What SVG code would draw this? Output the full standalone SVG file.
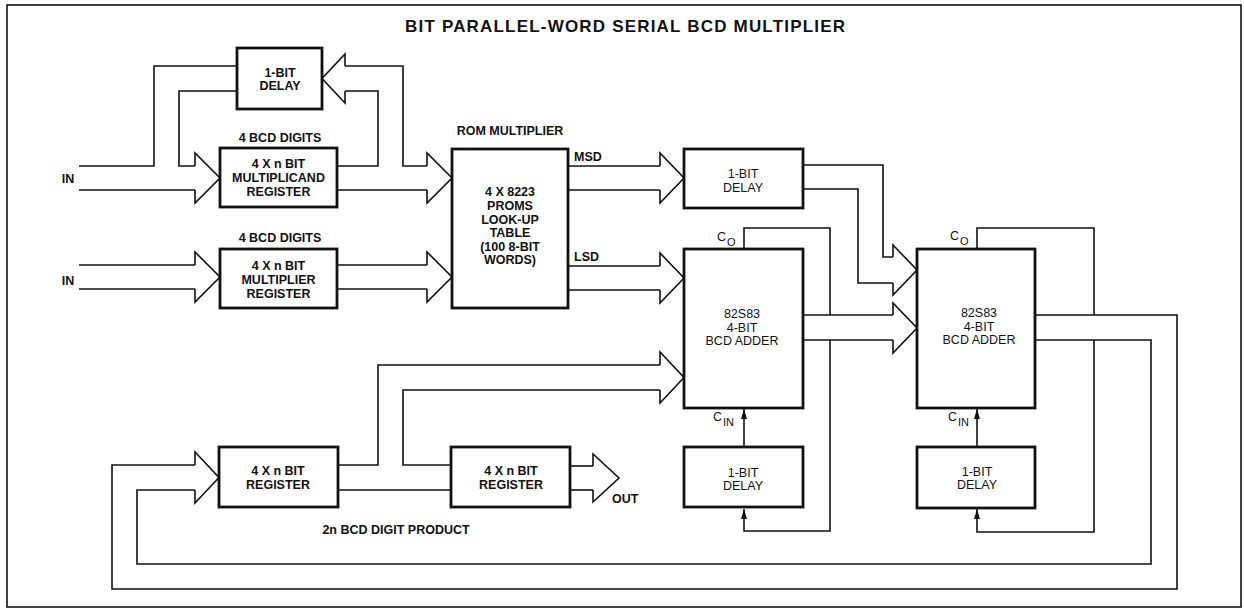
<svg xmlns="http://www.w3.org/2000/svg" width="1244" height="611" viewBox="0 0 1244 611">
<style>
.box{fill:#fff;stroke:#111;stroke-width:2.8}
.ln{fill:none;stroke:#111;stroke-width:1.6}
.hd{fill:none;stroke:#111;stroke-width:1.6;stroke-linejoin:miter}
.fr{fill:none;stroke:#111;stroke-width:1.6}
text{font-family:"Liberation Sans",Arial,sans-serif;fill:#111;font-size:12.5px}
.b{font-weight:bold}
.c{text-anchor:middle}
.t{font-size:17px;font-weight:bold}
.s{font-size:11px}
</style>
<defs>
<marker id="tip" viewBox="0 0 10 6" refX="10" refY="3" markerWidth="10" markerHeight="6" orient="auto" markerUnits="userSpaceOnUse">
<path d="M0,0 L10,3 L0,6 z" fill="#111"/>
</marker>
</defs>
<rect class="fr" x="7" y="5" width="1234" height="602"/>
<text class="t c" x="625" y="32" textLength="440" lengthAdjust="spacing">BIT PARALLEL-WORD SERIAL BCD MULTIPLIER</text>

<g id="connectors">
<!-- input 1 -->
<polyline class="ln" points="79,166 154,166 154,66 237,66"/>
<polyline class="ln" points="237,91 179,91 179,166 195,166"/>
<polyline class="ln" points="79,190 195,190"/>
<path class="hd" d="M195,166 V153 L220,178 L195,203 V190"/>
<!-- input 2 -->
<polyline class="ln" points="79,265 195,265"/>
<polyline class="ln" points="79,289 195,289"/>
<path class="hd" d="M195,265 V252 L220,277 L195,302 V289"/>
<!-- multiplicand out / recirculate through delay -->
<polyline class="ln" points="337,166 378,166 378,91 345,91"/>
<path class="hd" d="M345,91 V103 L322,78.5 L345,54 V66"/>
<polyline class="ln" points="345,66 403,66 403,166 427,166"/>
<polyline class="ln" points="337,190 427,190"/>
<path class="hd" d="M427,166 V153 L452,178 L427,203 V190"/>
<!-- multiplier out -->
<polyline class="ln" points="337,265 427,265"/>
<polyline class="ln" points="337,289 427,289"/>
<path class="hd" d="M427,265 V252 L452,277 L427,302 V289"/>
<!-- MSD -->
<polyline class="ln" points="568,166 660,166"/>
<polyline class="ln" points="568,190 660,190"/>
<path class="hd" d="M660,166 V153 L684,178 L660,203 V190"/>
<!-- LSD -->
<polyline class="ln" points="568,266 660,266"/>
<polyline class="ln" points="568,290 660,290"/>
<path class="hd" d="M660,266 V253 L684,278 L660,303 V290"/>
<!-- delay to adder2 -->
<polyline class="ln" points="803,165 883,165 883,257 893,257"/>
<polyline class="ln" points="803,189 858,189 858,283 893,283"/>
<path class="hd" d="M893,257 V245 L917,270 L893,295 V283"/>
<!-- adder1 out to adder2 -->
<polyline class="ln" points="803,315 893,315"/>
<polyline class="ln" points="803,340 893,340"/>
<path class="hd" d="M893,315 V303 L917,328 L893,353 V340"/>
<!-- adder1 carry -->
<polyline class="ln" points="744,249 744,228 830,228 830,315"/>
<polyline class="ln" points="830,340 830,531 744,531 744,509" marker-end="url(#tip)"/>
<line class="ln" x1="744" y1="447" x2="744" y2="409" marker-end="url(#tip)"/>
<!-- adder2 carry -->
<polyline class="ln" points="977,249 977,228 1094,228 1094,315"/>
<polyline class="ln" points="1094,340 1094,532 977,532 977,509" marker-end="url(#tip)"/>
<line class="ln" x1="977" y1="447" x2="977" y2="409" marker-end="url(#tip)"/>
<!-- adder2 output loop to product register -->
<polyline class="ln" points="1035,315 1177,315 1177,589 112,589 112,465 195,465"/>
<polyline class="ln" points="1035,340 1151,340 1151,564 137,564 137,490 195,490"/>
<path class="hd" d="M195,465 V452 L219,477.5 L195,503 V490"/>
<!-- register 1 out -->
<polyline class="ln" points="338,465 378,465 378,365 660,365"/>
<polyline class="ln" points="338,490 451,490"/>
<polyline class="ln" points="451,465 403,465 403,390 660,390"/>
<path class="hd" d="M660,365 V352 L684,377.5 L660,403 V390"/>
<!-- OUT -->
<polyline class="ln" points="570,466 593,466"/>
<polyline class="ln" points="570,490 593,490"/>
<path class="hd" d="M593,466 V454 L619,478 L593,502 V490"/>
</g>

<g id="in-labels">
<text class="b c" x="68" y="182.5">IN</text>
<text class="b c" x="68" y="284.5">IN</text>
</g>

<g id="delay-top">
<rect class="box" x="237" y="48" width="85" height="61"/>
<text class="b c" x="280" y="76.5">1-BIT</text>
<text class="b c" x="280" y="90">DELAY</text>
</g>

<g id="multiplicand-register">
<text class="b c" x="280" y="141.5">4 BCD DIGITS</text>
<rect class="box" x="220" y="148" width="117" height="59"/>
<text class="b c" x="278.5" y="167.5">4 X n BIT</text>
<text class="b c" x="278.5" y="181.5">MULTIPLICAND</text>
<text class="b c" x="278.5" y="195.5">REGISTER</text>
</g>

<g id="multiplier-register">
<text class="b c" x="280" y="241.5">4 BCD DIGITS</text>
<rect class="box" x="220" y="249" width="117" height="59"/>
<text class="b c" x="278.5" y="269.5">4 X n BIT</text>
<text class="b c" x="278.5" y="283.5">MULTIPLIER</text>
<text class="b c" x="278.5" y="297.5">REGISTER</text>
</g>

<g id="rom-multiplier">
<text class="b c" x="510" y="134.5">ROM MULTIPLIER</text>
<rect class="box" x="452" y="149" width="116" height="159"/>
<text class="b c" x="510" y="196">4 X 8223</text>
<text class="b c" x="510" y="210">PROMS</text>
<text class="b c" x="510" y="223.5">LOOK-UP</text>
<text class="b c" x="510" y="237">TABLE</text>
<text class="b c" x="510" y="250.5">(100 8-BIT</text>
<text class="b c" x="510" y="264">WORDS)</text>
<text class="b" x="574" y="160.5">MSD</text>
<text class="b" x="574" y="260.5">LSD</text>
</g>

<g id="delay-msd">
<rect class="box" x="684" y="149" width="119" height="59"/>
<text class="c" x="743" y="177.5">1-BIT</text>
<text class="c" x="743" y="192">DELAY</text>
</g>

<g id="adder1">
<rect class="box" x="684" y="249" width="119" height="159"/>
<text class="c" x="742" y="317.5">82S83</text>
<text class="c" x="742" y="331.5">4-BIT</text>
<text class="c" x="742" y="344.5">BCD ADDER</text>
<text x="717" y="241">C<tspan class="s" dx="1" dy="5">O</tspan></text>
<text x="713" y="421">C<tspan class="s" dx="1" dy="5">IN</tspan></text>
</g>

<g id="adder1-delay">
<rect class="box" x="684" y="447" width="119" height="60"/>
<text class="c" x="743" y="476.5">1-BIT</text>
<text class="c" x="743" y="489.5">DELAY</text>
</g>

<g id="adder2">
<rect class="box" x="917" y="249" width="118" height="159"/>
<text class="c" x="979" y="316.5">82S83</text>
<text class="c" x="979" y="330.5">4-BIT</text>
<text class="c" x="979" y="343.5">BCD ADDER</text>
<text x="950" y="240">C<tspan class="s" dx="1" dy="5">O</tspan></text>
<text x="948" y="421">C<tspan class="s" dx="1" dy="5">IN</tspan></text>
</g>

<g id="adder2-delay">
<rect class="box" x="917" y="447" width="118" height="61"/>
<text class="c" x="977" y="475.5">1-BIT</text>
<text class="c" x="977" y="488.5">DELAY</text>
</g>

<g id="register1">
<rect class="box" x="219" y="447" width="119" height="60"/>
<text class="b c" x="278" y="474.5">4 X n BIT</text>
<text class="b c" x="278" y="488.5">REGISTER</text>
</g>

<g id="register2">
<rect class="box" x="451" y="447" width="119" height="60"/>
<text class="b c" x="511" y="474.5">4 X n BIT</text>
<text class="b c" x="511" y="488.5">REGISTER</text>
<text class="b" x="612" y="502.5">OUT</text>
</g>

<text class="b c" x="396" y="533.5">2n BCD DIGIT PRODUCT</text>
</svg>
